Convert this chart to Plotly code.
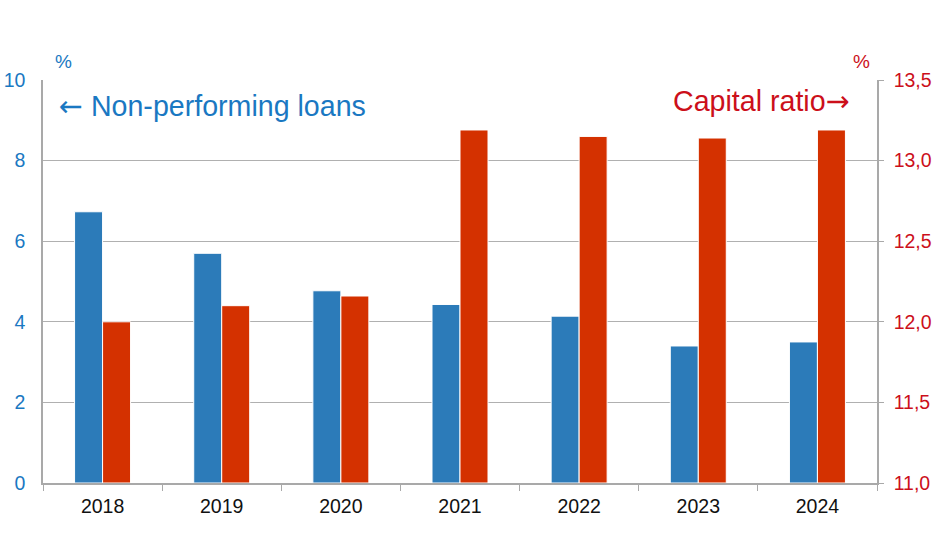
import plotly.graph_objects as go

years = ["2018", "2019", "2020", "2021", "2022", "2023", "2024"]
npl = [6.73, 5.70, 4.77, 4.43, 4.14, 3.40, 3.50]
capital_ratio = [12.00, 12.10, 12.16, 13.19, 13.15, 13.14, 13.19]
cr_base = 11.0

blue = "#2c7bb9"
red = "#d43100"
blue_txt = "#1a78c2"
red_txt = "#cc0f1a"
grey = "#a9a9a9"
font = "Liberation Sans, Arial, sans-serif"
arrow_font = "DejaVu Sans"

fig = go.Figure()

fig.add_trace(go.Bar(
    x=years, y=npl, name="Non-performing loans",
    marker=dict(color=blue, line=dict(color="white", width=1)),
    width=0.235, offset=-0.235,
))

# capital ratio bars sit on the right axis, starting from its bottom (11,0)
fig.add_trace(go.Bar(
    x=years, y=[v - cr_base for v in capital_ratio], base=cr_base,
    name="Capital ratio", yaxis="y2",
    marker=dict(color=red, line=dict(color="white", width=1)),
    width=0.235, offset=0.0,
))

fig.update_layout(
    width=936, height=560,
    margin=dict(l=43, r=59, t=80, b=77, autoexpand=False),
    plot_bgcolor="white", paper_bgcolor="white",
    showlegend=False,
    separators=", ",
    font=dict(family=font, size=19.5, color="black"),
    xaxis=dict(
        type="category", showline=True, linecolor=grey, linewidth=1.5,
        ticks="outside", tickson="boundaries", ticklen=6, tickcolor=grey,
        tickfont=dict(size=19.5, color="#111111"), showgrid=False,
        ticklabelstandoff=5,
    ),
    yaxis=dict(
        range=[0, 10], dtick=2, showline=True, linecolor=grey, linewidth=1.5,
        showgrid=True, gridcolor="#b0b0b0", gridwidth=1,
        tickfont=dict(size=19.5, color=blue_txt), ticks="", zeroline=False,
        ticklabelstandoff=12,
    ),
    yaxis2=dict(
        range=[11, 13.5], dtick=0.5, tickformat=".1f", overlaying="y", side="right",
        showline=True, linecolor=grey, linewidth=1.5, showgrid=False,
        ticks="outside", ticklen=5, tickcolor=grey,
        tickfont=dict(size=19.5, color=red_txt), zeroline=False,
        ticklabelstandoff=6,
    ),
    annotations=[
        dict(text="%", xref="paper", yref="paper", x=0.024, y=1.045,
             xanchor="center", yanchor="middle", showarrow=False,
             font=dict(size=19, color=blue_txt)),
        dict(text="%", xref="paper", yref="paper", x=0.981, y=1.045,
             xanchor="center", yanchor="middle", showarrow=False,
             font=dict(size=19, color=red_txt)),
        dict(text=f"<span style='font-family:{arrow_font}'>←</span> Non-performing loans",
             xref="paper", yref="paper", x=0.0168, y=0.9355,
             xanchor="left", yanchor="middle", showarrow=False,
             font=dict(size=28.6, color=blue_txt)),
        dict(text=f"Capital ratio<span style='font-family:{arrow_font}'>→</span>",
             xref="paper", yref="paper", x=0.970, y=0.948,
             xanchor="right", yanchor="middle", showarrow=False,
             font=dict(size=28.6, color=red_txt)),
    ],
)

# drop the default 8px page margin so the figure fills the window
fig.write_html("out.html", config={"displayModeBar": False},
               post_script="document.body.style.margin = '0';")
